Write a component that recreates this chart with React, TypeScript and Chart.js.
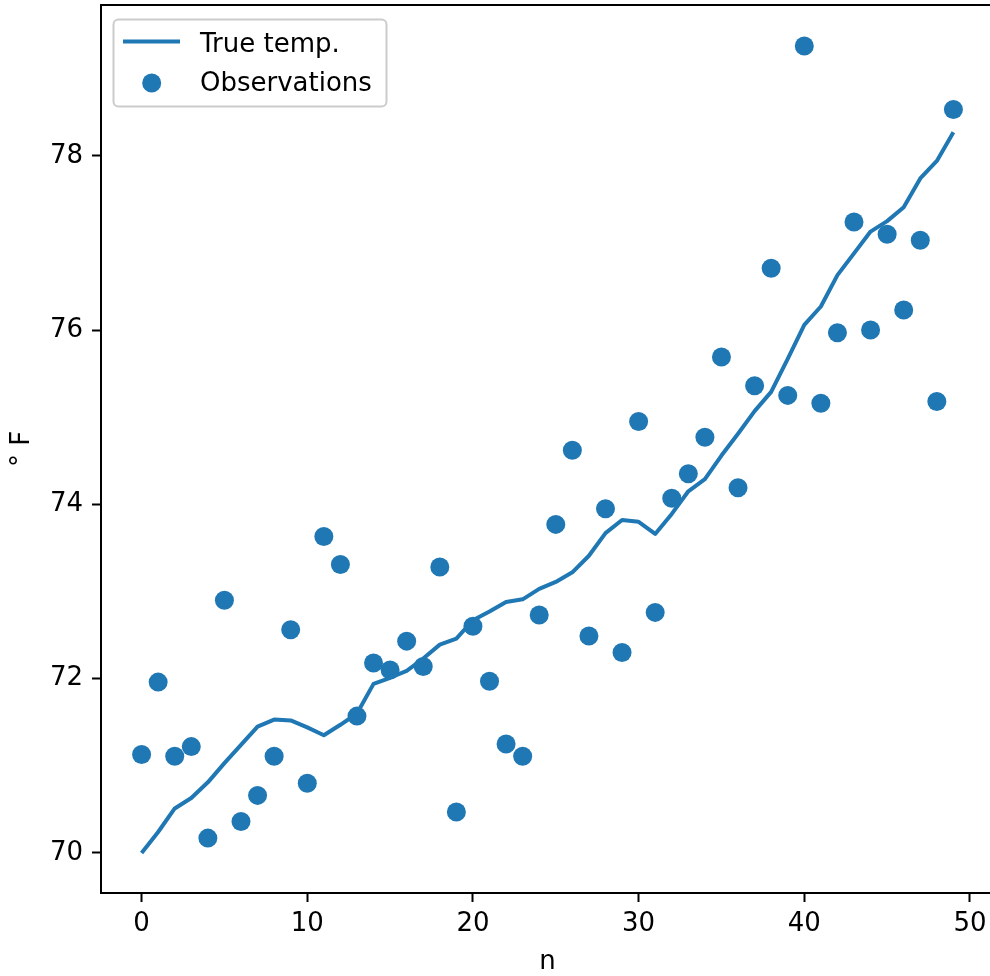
import React, { useEffect, useRef } from "react";
import { Chart, registerables } from "chart.js";

Chart.register(...registerables);

const nValues: number[] = Array.from({ length: 50 }, (_, i) => i);

const trueTemp: number[] = [
  70.0, 70.24, 70.51, 70.63, 70.81, 71.03, 71.24, 71.45, 71.53, 71.52,
  71.44, 71.35, 71.47, 71.6, 71.94, 72.01, 72.09, 72.23, 72.39, 72.46,
  72.67, 72.77, 72.88, 72.91, 73.03, 73.11, 73.22, 73.41, 73.67, 73.82,
  73.8, 73.66, 73.89, 74.15, 74.29, 74.56, 74.81, 75.07, 75.29, 75.67,
  76.06, 76.27, 76.63, 76.88, 77.13, 77.25, 77.41, 77.74, 77.94, 78.27,
];

const observations: number[] = [
  71.13, 71.96, 71.11, 71.22, 70.17, 72.9, 70.36, 70.66, 71.11, 72.56,
  70.8, 73.63, 73.31, 71.57, 72.18, 72.1, 72.43, 72.14, 73.28, 70.47,
  72.6, 71.97, 71.25, 71.11, 72.73, 73.77, 74.62, 72.49, 73.95, 72.3,
  74.95, 72.76, 74.07, 74.35, 74.77, 75.69, 74.19, 75.36, 76.71, 75.25,
  79.26, 75.16, 75.97, 77.24, 76.0, 77.1, 76.23, 77.03, 75.18, 78.53,
];

const xTicks: number[] = [0, 10, 20, 30, 40, 50];
const yTicks: number[] = [70, 72, 74, 76, 78];

const seriesLabels: string[] = ["True temp.", "Observations"];
const xTitle = "n";
const yTitle = "° F";

const BLUE = "#1f77b4";
const FONT = "'DejaVu Sans', sans-serif";

const frameAndLegend = {
  id: "frameAndLegend",
  afterDraw(chart: any) {
    const { ctx, chartArea } = chart;
    ctx.save();
    // spines
    ctx.strokeStyle = "#000";
    ctx.lineWidth = 2;
    ctx.strokeRect(chartArea.left, chartArea.top, chartArea.right - chartArea.left, chartArea.bottom - chartArea.top);

    // legend
    const lx = 113.5, ly = 19.5, lw = 273, lh = 87, r = 5;
    ctx.beginPath();
    ctx.moveTo(lx + r, ly);
    ctx.lineTo(lx + lw - r, ly);
    ctx.arcTo(lx + lw, ly, lx + lw, ly + r, r);
    ctx.lineTo(lx + lw, ly + lh - r);
    ctx.arcTo(lx + lw, ly + lh, lx + lw - r, ly + lh, r);
    ctx.lineTo(lx + r, ly + lh);
    ctx.arcTo(lx, ly + lh, lx, ly + lh - r, r);
    ctx.lineTo(lx, ly + r);
    ctx.arcTo(lx, ly, lx + r, ly, r);
    ctx.closePath();
    ctx.fillStyle = "rgba(255,255,255,0.8)";
    ctx.fill();
    ctx.strokeStyle = "#cccccc";
    ctx.lineWidth = 2;
    ctx.stroke();

    const ds = chart.data.datasets;
    // line sample
    ctx.strokeStyle = ds[0].borderColor;
    ctx.lineWidth = 4;
    ctx.beginPath();
    ctx.moveTo(123, 41.5);
    ctx.lineTo(180, 41.5);
    ctx.stroke();
    // marker sample
    ctx.fillStyle = ds[1].backgroundColor;
    ctx.beginPath();
    ctx.arc(151.7, 83, 9.5, 0, Math.PI * 2);
    ctx.fill();

    ctx.fillStyle = "#000";
    ctx.font = `26px ${FONT}`;
    ctx.textAlign = "left";
    ctx.textBaseline = "alphabetic";
    ctx.fillText(ds[0].label, 200, 51.5);
    ctx.fillText(ds[1].label, 200, 91);
    ctx.restore();
  },
};

export default function App() {
  const ref = useRef<HTMLCanvasElement | null>(null);

  useEffect(() => {
    if (!ref.current) return;
    const chart = new Chart(ref.current, {
      type: "scatter",
      data: {
        datasets: [
          {
            type: "line",
            label: seriesLabels[0],
            data: nValues.map((n, i) => ({ x: n, y: trueTemp[i] })),
            borderColor: BLUE,
            backgroundColor: BLUE,
            borderWidth: 4,
            pointRadius: 0,
            tension: 0,
            fill: false,
            borderJoinStyle: "round",
            borderCapStyle: "butt",
          } as any,
          {
            type: "scatter",
            label: seriesLabels[1],
            data: nValues.map((n, i) => ({ x: n, y: observations[i] })),
            backgroundColor: BLUE,
            borderColor: BLUE,
            borderWidth: 0,
            pointRadius: 9.5,
          } as any,
        ],
      },
      options: {
        animation: false,
        responsive: false,
        devicePixelRatio: 1,
        layout: { autoPadding: false, padding: { left: 0, top: 5, right: 6, bottom: 0 } },
        plugins: {
          legend: { display: false },
          tooltip: { enabled: false },
        },
        scales: {
          x: {
            type: "linear",
            min: -2.45,
            max: 51.45,
            afterBuildTicks: (scale: any) => {
              scale.ticks = xTicks.map((v) => ({ value: v }));
            },
            afterFit: (scale: any) => {
              scale.height = 83;
              scale.paddingLeft = 0;
              scale.paddingRight = 0;
            },
            ticks: {
              font: { family: FONT, size: 26 },
              color: "#000",
              padding: 7,
              maxRotation: 0,
              autoSkip: false,
            },
            grid: {
              display: true,
              drawOnChartArea: false,
              drawTicks: true,
              tickLength: 9,
              tickWidth: 2,
              tickColor: "#000",
            },
            border: { display: true, color: "#000", width: 2 },
            title: {
              display: true,
              text: xTitle,
              color: "#000",
              font: { family: FONT, size: 26 },
              padding: { top: 0, bottom: -2 },
            },
          },
          y: {
            type: "linear",
            min: 69.54,
            max: 79.73,
            afterBuildTicks: (scale: any) => {
              scale.ticks = yTicks.map((v) => ({ value: v }));
            },
            afterFit: (scale: any) => {
              scale.width = 101;
              scale.paddingTop = 0;
              scale.paddingBottom = 0;
            },
            ticks: {
              font: { family: FONT, size: 26 },
              color: "#000",
              padding: 9,
              autoSkip: false,
            },
            grid: {
              display: true,
              drawOnChartArea: false,
              drawTicks: true,
              tickLength: 9,
              tickWidth: 2,
              tickColor: "#000",
            },
            border: { display: true, color: "#000", width: 2 },
            title: {
              display: true,
              text: yTitle,
              color: "#000",
              font: { family: FONT, size: 26 },
              padding: { top: 7, bottom: 0 },
            },
          },
        },
      } as any,
      plugins: [frameAndLegend],
    });
    return () => chart.destroy();
  }, []);

  return (
    <div
      style={{
        position: "fixed",
        left: 0,
        top: 0,
        width: 990,
        height: 976,
        overflow: "hidden",
        background: "#fff",
      }}
    >
      <canvas ref={ref} width={1000} height={976} style={{ width: 1000, height: 976, display: "block" }} />
    </div>
  );
}
